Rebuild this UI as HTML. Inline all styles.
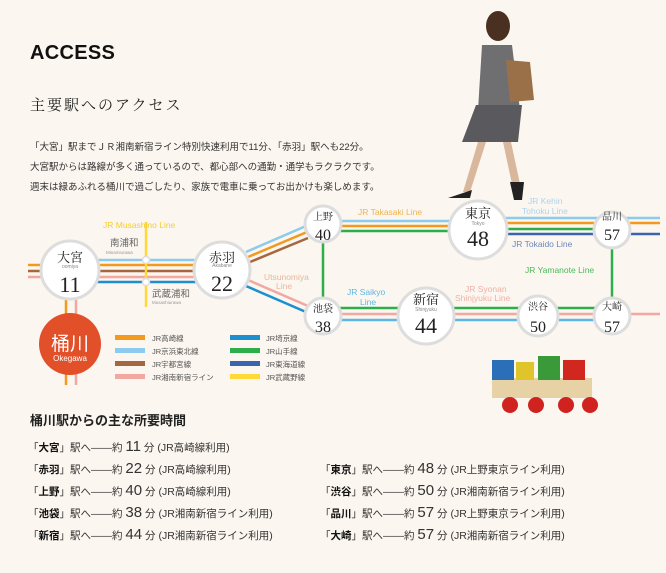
<!DOCTYPE html>
<html><head><meta charset="utf-8"><style>
body{margin:0;width:666px;height:573px;background:#fbf6ef;font-family:"Liberation Sans","Noto Sans CJK JP",sans-serif;overflow:hidden;position:relative;color:#222}
.a{position:absolute;white-space:nowrap}
.r{font-size:10.5px;color:#333}
.r b{color:#111}
.r .n{font-size:15px;font-family:"Liberation Sans Narrow","Liberation Sans",sans-serif}
</style></head><body>
<div class="a" style="left:30px;top:42px;font-size:20px;font-weight:bold;letter-spacing:0.3px;color:#111">ACCESS</div>
<div class="a" style="left:30px;top:94px;font-size:15px;font-family:'Noto Serif CJK SC',serif;letter-spacing:2px">主要駅へのアクセス</div>
<div class="a" style="left:30px;top:138px;font-size:9.5px;line-height:20px;color:#333">「大宮」駅までＪＲ湘南新宿ライン特別快速利用で11分、「赤羽」駅へも22分。<br>大宮駅からは路線が多く通っているので、都心部への通勤・通学もラクラクです。<br>週末は緑あふれる桶川で過ごしたり、家族で電車に乗ってお出かけも楽しめます。</div>

<svg class="a" style="left:0;top:0" width="666" height="573">
<!-- woman -->
<ellipse cx="498" cy="26" rx="12" ry="15" fill="#4a3020"/>
<path d="M482 45 L512 45 L520 110 L478 110Z" fill="#6f6f72"/>
<path d="M506 60 L530 62 L534 100 L510 102Z" fill="#9a7048"/>
<path d="M476 105 L522 105 L518 142 L462 142Z" fill="#5a5a5e"/>
<path d="M478 142 L486 142 L470 192 L463 192Z" fill="#d9b79c"/>
<path d="M503 142 L511 142 L520 184 L512 184Z" fill="#d9b79c"/>
<path d="M448 198 L472 190 L470 198 Z" fill="#222"/><path d="M510 182 L524 182 L522 200 L514 200Z" fill="#222"/>
<!-- train -->
<rect x="492" y="378" width="100" height="20" fill="#e7d2a6"/>
<rect x="492" y="360" width="22" height="20" fill="#2a6fb8"/><rect x="516" y="362" width="18" height="18" fill="#e0c52a"/>
<rect x="538" y="356" width="22" height="24" fill="#3a9a3a"/><rect x="563" y="360" width="22" height="20" fill="#d0281f"/>
<g fill="#d0231f"><circle cx="510" cy="405" r="8"/><circle cx="536" cy="405" r="8"/><circle cx="566" cy="405" r="8"/><circle cx="590" cy="405" r="8"/></g>

<g fill="none" stroke-width="2.5">
<line x1="28" y1="265" x2="45" y2="265" stroke="#f39a1e"/><line x1="28" y1="271" x2="45" y2="271" stroke="#a5673f"/><line x1="28" y1="277" x2="45" y2="277" stroke="#f2a7a0"/>
<line x1="66" y1="295" x2="66" y2="385" stroke="#f39a1e"/><line x1="76" y1="295" x2="76" y2="385" stroke="#f2a7a0"/>
<line x1="95" y1="260" x2="200" y2="260" stroke="#8ccbee"/>
<line x1="95" y1="265" x2="200" y2="265" stroke="#f39a1e"/>
<line x1="95" y1="271" x2="200" y2="271" stroke="#a5673f"/>
<line x1="95" y1="277" x2="200" y2="277" stroke="#f2a7a0"/>
<line x1="95" y1="282" x2="200" y2="282" stroke="#1b8fd0"/>
<line x1="146" y1="222" x2="146" y2="307" stroke="#ffd83a"/>
<line x1="246" y1="252" x2="306" y2="226" stroke="#8ccbee"/>
<line x1="248" y1="257" x2="307" y2="232" stroke="#f39a1e"/>
<line x1="250" y1="262" x2="308" y2="238" stroke="#a5673f"/>
<line x1="248" y1="280" x2="308" y2="306" stroke="#f2a7a0"/>
<line x1="246" y1="286" x2="306" y2="312" stroke="#1b8fd0"/>
<line x1="323" y1="230" x2="323" y2="310" stroke="#2eae4a"/>
<line x1="340" y1="221" x2="455" y2="221" stroke="#8ccbee"/>
<line x1="340" y1="226" x2="455" y2="226" stroke="#f39a1e"/>
<line x1="340" y1="231" x2="455" y2="231" stroke="#2eae4a"/>
<line x1="500" y1="218" x2="660" y2="218" stroke="#8ccbee"/>
<line x1="500" y1="223" x2="660" y2="223" stroke="#f39a1e"/>
<line x1="500" y1="229" x2="600" y2="229" stroke="#2eae4a"/>
<line x1="500" y1="234" x2="660" y2="234" stroke="#3a64b0"/>
<line x1="612" y1="240" x2="612" y2="305" stroke="#2eae4a"/>
<line x1="340" y1="308" x2="615" y2="308" stroke="#2eae4a"/>
<line x1="340" y1="314" x2="660" y2="314" stroke="#f2a7a0"/>
<line x1="340" y1="320" x2="600" y2="320" stroke="#5cb6e6"/>
</g>
<g fill="#fff" stroke="#ddd" stroke-width="3">
<circle cx="146" cy="260" r="3.5" stroke-width="1.5"/><circle cx="146" cy="282" r="3.5" stroke-width="1.5"/>
<circle cx="70" cy="270" r="29"/><circle cx="222" cy="270" r="28"/>
<circle cx="323" cy="224" r="18"/><circle cx="323" cy="316" r="18"/>
<circle cx="478" cy="230" r="29"/><circle cx="426" cy="316" r="28"/>
<circle cx="612" cy="230" r="18"/><circle cx="538" cy="316" r="20"/><circle cx="612" cy="316" r="18"/>
</g>
<circle cx="70" cy="344" r="31" fill="#e2502a"/>
<g font-family="Liberation Serif,Noto Serif CJK SC,serif" text-anchor="middle" fill="#222">
<text x="70" y="262" font-size="13">大宮</text><text x="70" y="292" font-size="22">11</text>
<text x="222" y="262" font-size="13">赤羽</text><text x="222" y="291" font-size="22">22</text>
<text x="323" y="220" font-size="10">上野</text><text x="323" y="240" font-size="16">40</text>
<text x="323" y="312" font-size="10">池袋</text><text x="323" y="332" font-size="16">38</text>
<text x="478" y="218" font-size="13">東京</text><text x="478" y="246" font-size="22">48</text>
<text x="426" y="304" font-size="13">新宿</text><text x="426" y="333" font-size="22">44</text>
<text x="612" y="220" font-size="10">品川</text><text x="612" y="240" font-size="16">57</text>
<text x="538" y="310" font-size="10">渋谷</text><text x="538" y="332" font-size="16">50</text>
<text x="612" y="310" font-size="10">大崎</text><text x="612" y="332" font-size="16">57</text>
<text x="70" y="350" font-size="19" fill="#fff" font-family="Noto Sans CJK JP,sans-serif">桶川</text>
</g>
<g font-size="5" text-anchor="middle" fill="#888">
<text x="70" y="268">oomiya</text><text x="222" y="267">Akabane</text><text x="478" y="225">Tokyo</text><text x="426" y="311">Shinjyuku</text>
</g>
<text x="70" y="361" font-size="8" fill="#fff" text-anchor="middle">Okegawa</text>
<g font-size="9.5" fill="#666">
<text x="110" y="246">南浦和</text><text x="106" y="254" font-size="4.5" fill="#999">Minamiurawa</text>
<text x="152" y="297">武蔵浦和</text><text x="152" y="304" font-size="4.5" fill="#999">Musashiurawa</text>
</g>
<g font-size="8.5" font-family="Liberation Sans,sans-serif">
<text x="103" y="228" fill="#f5cf2a">JR Musashino Line</text>
<text x="264" y="280" fill="#e8b79c">Utsunomiya</text><text x="276" y="277" dy="12" fill="#e8b79c">Line</text>
<text x="358" y="215" fill="#f3b24a">JR Takasaki Line</text>
<text x="528" y="204" fill="#aad4ef">JR Kehin</text><text x="522" y="214" fill="#aad4ef">Tohoku Line</text>
<text x="512" y="247" fill="#6a88c0">JR Tokaido Line</text>
<text x="525" y="273" fill="#4cb85e">JR Yamanote Line</text>
<text x="347" y="295" fill="#5cb6e6">JR Saikyo</text><text x="360" y="305" fill="#5cb6e6">Line</text>
<text x="465" y="292" fill="#f0b0a8">JR Syonan</text><text x="455" y="301" fill="#f0b0a8">Shinjyuku Line</text>
</g>
<g>
<rect x="115" y="335" width="30" height="5" fill="#f39a1e"/><rect x="115" y="348" width="30" height="5" fill="#8ccbee"/>
<rect x="115" y="361" width="30" height="5" fill="#a5673f"/><rect x="115" y="374" width="30" height="5" fill="#f2a7a0"/>
<rect x="230" y="335" width="30" height="5" fill="#1b8fd0"/><rect x="230" y="348" width="30" height="5" fill="#2eae4a"/>
<rect x="230" y="361" width="30" height="5" fill="#3a64b0"/><rect x="230" y="374" width="30" height="5" fill="#ffd83a"/>
</g>
<g font-size="7.5" fill="#555">
<text x="152" y="341">JR高崎線</text><text x="152" y="354">JR京浜東北線</text><text x="152" y="367">JR宇都宮線</text><text x="152" y="380">JR湘南新宿ライン</text>
<text x="266" y="341">JR埼京線</text><text x="266" y="354">JR山手線</text><text x="266" y="367">JR東海道線</text><text x="266" y="380">JR武蔵野線</text>
</g>
</svg>

<div class="a" style="left:30px;top:410px;font-size:13px;font-weight:bold">桶川駅からの主な所要時間</div>
<div class="a r" style="left:28px;top:438px">「<b>大宮</b>」駅へ――約 <span class="n">11</span> 分 (JR高崎線利用)</div>
<div class="a r" style="left:28px;top:460px">「<b>赤羽</b>」駅へ――約 <span class="n">22</span> 分 (JR高崎線利用)</div>
<div class="a r" style="left:28px;top:482px">「<b>上野</b>」駅へ――約 <span class="n">40</span> 分 (JR高崎線利用)</div>
<div class="a r" style="left:28px;top:504px">「<b>池袋</b>」駅へ――約 <span class="n">38</span> 分 (JR湘南新宿ライン利用)</div>
<div class="a r" style="left:28px;top:526px">「<b>新宿</b>」駅へ――約 <span class="n">44</span> 分 (JR湘南新宿ライン利用)</div>
<div class="a r" style="left:320px;top:460px">「<b>東京</b>」駅へ――約 <span class="n">48</span> 分 (JR上野東京ライン利用)</div>
<div class="a r" style="left:320px;top:482px">「<b>渋谷</b>」駅へ――約 <span class="n">50</span> 分 (JR湘南新宿ライン利用)</div>
<div class="a r" style="left:320px;top:504px">「<b>品川</b>」駅へ――約 <span class="n">57</span> 分 (JR上野東京ライン利用)</div>
<div class="a r" style="left:320px;top:526px">「<b>大崎</b>」駅へ――約 <span class="n">57</span> 分 (JR湘南新宿ライン利用)</div>
</body></html>
